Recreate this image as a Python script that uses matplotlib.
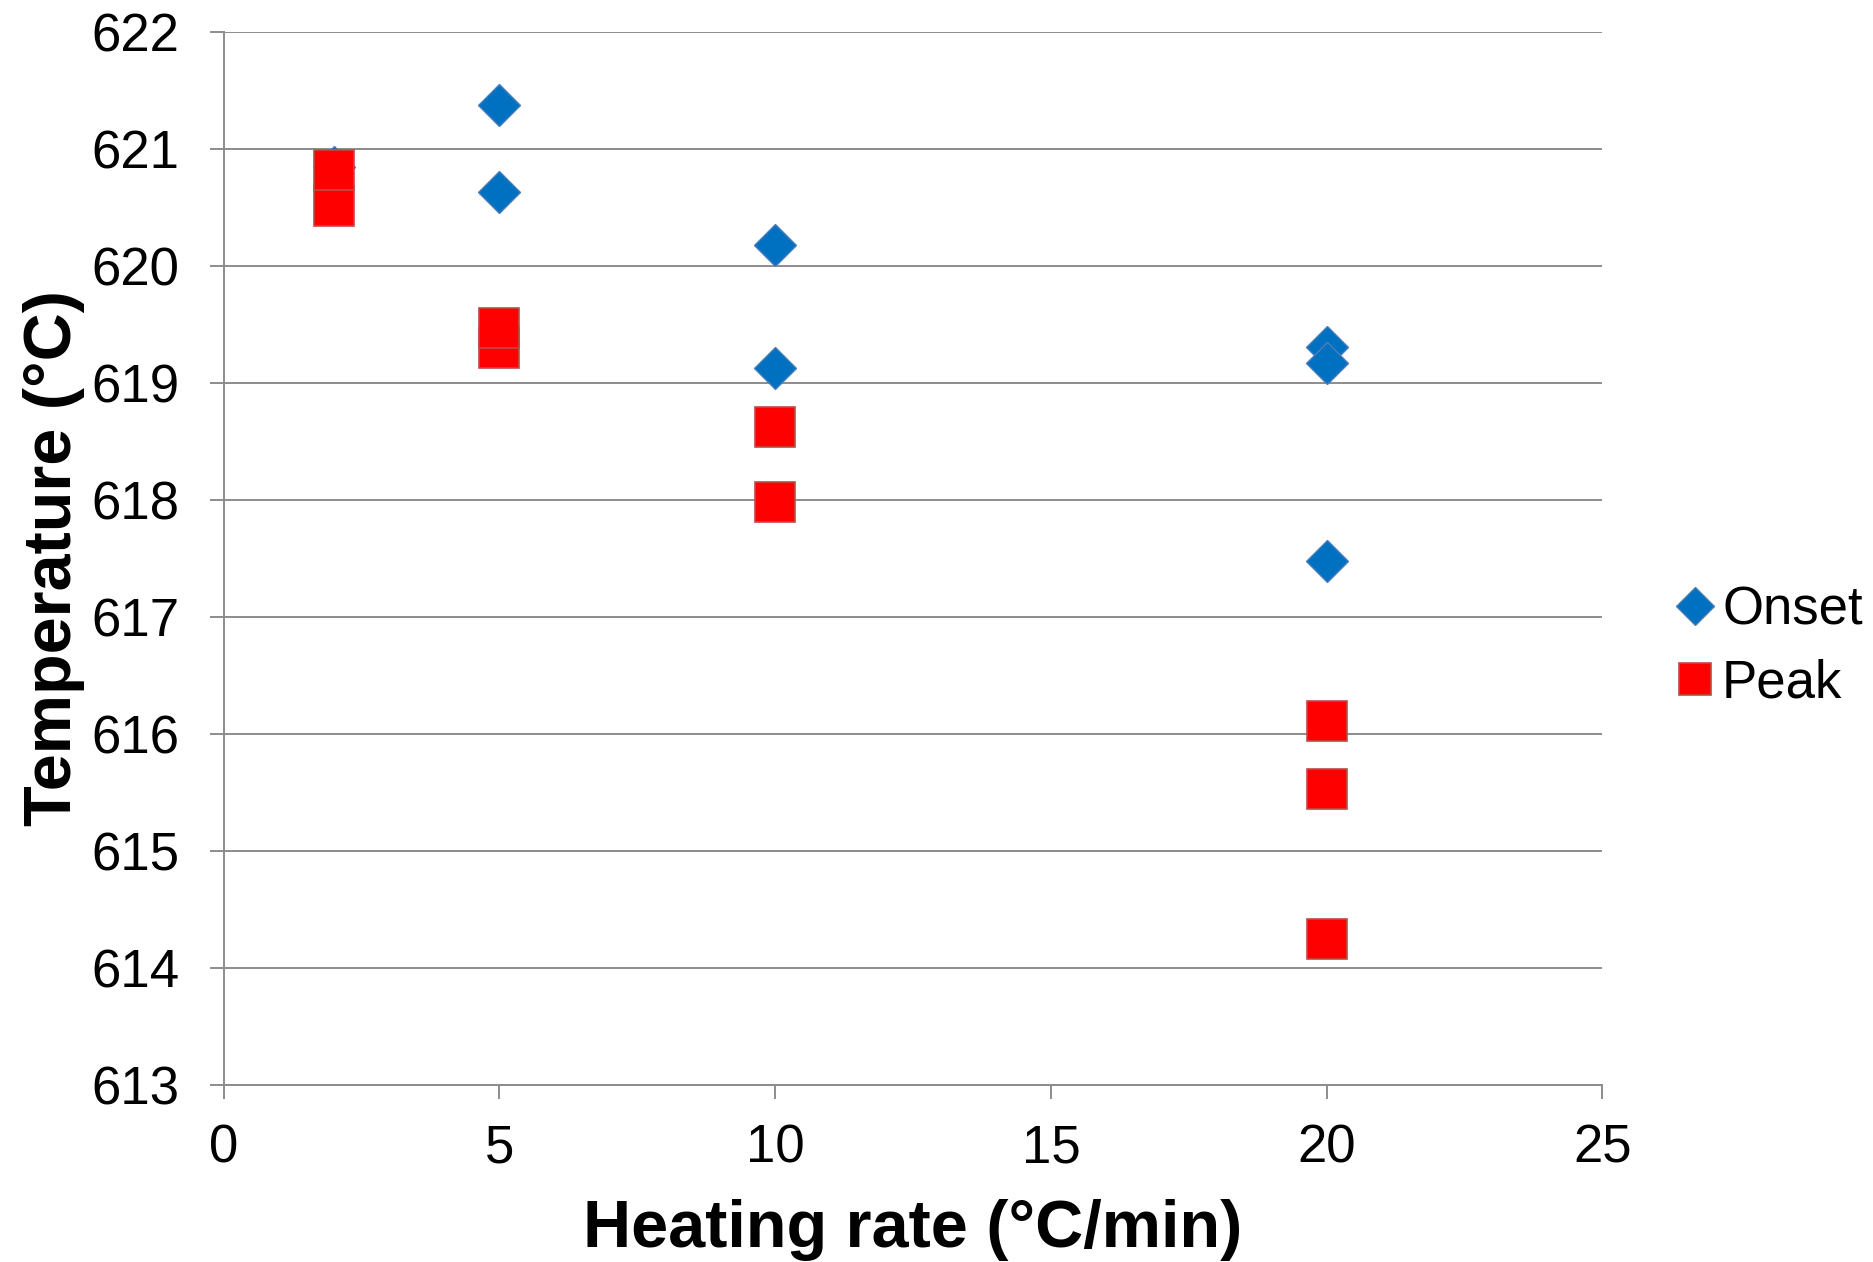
import matplotlib.pyplot as plt

plt.rcParams['font.family'] = ['Liberation Sans', 'DejaVu Sans']

# data
onset_rate = [2, 5, 5, 10, 10, 20, 20, 20]
onset_temp = [620.85, 621.38, 620.63, 620.18, 619.13, 619.31, 619.17, 617.48]
peak_rate = [2, 2, 5, 5, 10, 10, 20, 20, 20]
peak_temp = [620.51, 620.82, 619.30, 619.47, 618.62, 617.98, 616.11, 615.53, 614.25]

xticks = [0, 5, 10, 15, 20, 25]
yticks = [613, 614, 615, 616, 617, 618, 619, 620, 621, 622]

fig = plt.figure(figsize=(18.74, 12.62), dpi=100)
ax = fig.add_axes([0.1193, 0.1403, 0.7358, 0.8343])

ax.plot(onset_rate, onset_temp, linestyle='none', marker='D', markersize=21,
        markerfacecolor='#0070C0', markeredgecolor='#4A7EBB', markeredgewidth=1,
        label='Onset', zorder=3)
ax.plot(peak_rate, peak_temp, linestyle='none', marker='s', markersize=29.5,
        markerfacecolor='#FF0000', markeredgecolor='#BE4B48', markeredgewidth=1.2,
        label='Peak', zorder=4)

ax.set_xlim(0, 25)
ax.set_ylim(613, 622)
ax.set_xticks(xticks)
ax.set_yticks(yticks)

ax.yaxis.grid(True, color='#8C8C8C', linewidth=1.4)
ax.set_axisbelow(True)
for s in ['top', 'right']:
    ax.spines[s].set_visible(False)
for s in ['left', 'bottom']:
    ax.spines[s].set_color('#8C8C8C')
    ax.spines[s].set_linewidth(1.4)

ax.tick_params(axis='both', colors='#8C8C8C', labelcolor='black', labelsize=38,
               length=10, width=1.4, direction='out')
ax.tick_params(axis='y', pad=22)
ax.tick_params(axis='x', pad=18)

ax.set_xlabel('Heating rate (°C/min)', fontsize=48, fontweight='bold', labelpad=18)
ax.set_ylabel('Temperature (°C)', fontsize=48, fontweight='bold', labelpad=4)

leg = ax.legend(loc='center left', bbox_to_anchor=(1.04, 0.416), frameon=False,
                fontsize=38, handlelength=0.6, handletextpad=0.22,
                labelspacing=0.45, borderaxespad=0)
leg.legend_handles[0].set_markersize(19)
leg.legend_handles[1].set_markersize(23)

fig.savefig('out.png', dpi=100)
